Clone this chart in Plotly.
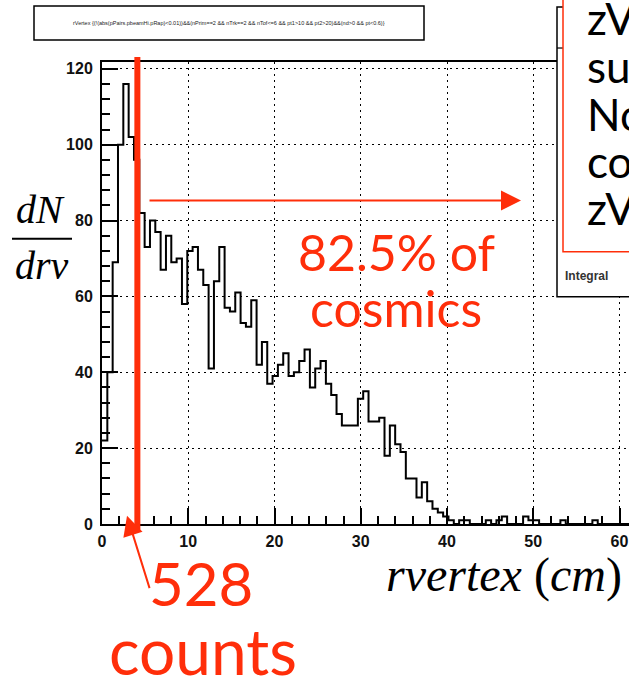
import plotly.graph_objects as go

# ---------------- data ----------------
bin_width = 0.618          # cm
counts = [22, 40, 69, 100, 116, 102, 96, 82, 73, 80,
          77, 67, 76, 69, 70, 58, 72, 73, 67, 63,
          41, 64, 73, 57, 56, 61, 53, 52, 59, 42,
          48, 37, 39, 42, 45, 39, 40, 43, 46, 36,
          41, 43, 37, 34, 29, 26, 26, 26, 33, 35,
          27, 27, 28, 18, 26, 21, 19, 12, 12, 7,
          11, 6, 4, 3, 2, 1, 0, 1, 1, 0,
          0, 0, 1, 0, 1, 2, 0, 0, 0, 2,
          1, 1, 0, 0, 0, 0, 1, 0, 0, 0,
          0, 0, 1, 0, 0, 0, 0, 0, 0, 0]
cut_r = 4.1                 # cm, vertical red cut line
x_ticks = [0, 10, 20, 30, 40, 50, 60]
y_ticks = [0, 20, 40, 60, 80, 100, 120]
x_range = [0, 61.1]
y_range = [0, 121.8]
left_counts_label = "528"
right_frac_label = "82.5% of"

edges = [i * bin_width for i in range(len(counts) + 1)]
yvals = counts + [counts[-1]]

# ---------------- layout geometry ----------------
W, H = 629, 676
ML, MR, MT, MB = 102, 0, 62, 151.5
PW, PH = W - ML - MR, H - MT - MB


def px(xp):
    return (xp - ML) / PW


def py(yp):
    return (H - MB - yp) / PH


def dx(v):
    return (v - x_range[0]) / (x_range[1] - x_range[0])


def dy(v):
    return (v - y_range[0]) / (y_range[1] - y_range[0])


RED = "#ff2e0a"

fig = go.Figure()
fig.add_trace(go.Scatter(
    x=edges, y=yvals, mode="lines", line_shape="hv",
    line=dict(color="black", width=2), showlegend=False, hoverinfo="skip"))

tickfont = dict(family="Liberation Sans", size=16, color="#111", weight="bold")
fig.update_xaxes(
    range=x_range, tickvals=x_ticks, ticks="inside", ticklen=16, tickwidth=1.5,
    tickcolor="black", showline=True, linecolor="black", linewidth=2, mirror=True,
    showgrid=True, gridcolor="black", gridwidth=1.3, griddash="2px,4px",
    zeroline=False, tickfont=tickfont, ticklabelstandoff=2,
    minor=dict(dtick=2, ticks="inside", ticklen=8, tickwidth=1.5, tickcolor="black", showgrid=False))
fig.update_yaxes(
    range=y_range, tickvals=y_ticks, ticks="inside", ticklen=16, tickwidth=1.5,
    tickcolor="black", showline=True, linecolor="black", linewidth=2, mirror=False,
    showgrid=True, gridcolor="black", gridwidth=1.3, griddash="2px,4px",
    zeroline=False, tickfont=tickfont, ticklabelstandoff=4,
    minor=dict(dtick=4, ticks="inside", ticklen=8, tickwidth=1.5, tickcolor="black", showgrid=False))

shapes = []
annotations = []


def label(xp, yp, text, font, xanchor="center", yanchor="middle"):
    annotations.append(dict(xref="paper", yref="paper", x=px(xp), y=py(yp),
                            xanchor=xanchor, yanchor=yanchor, showarrow=False,
                            text=text, font=font))


# title box
shapes.append(dict(type="rect", xref="paper", yref="paper", x0=px(34), x1=px(424),
                   y0=py(40), y1=py(6), line=dict(color="black", width=1.5),
                   fillcolor="white", layer="above"))
label(229, 23,
      "rVertex {(!(abs(pPairs.pbeamHi.pRap)<0.01))&&(nPrim==2 && nTrk==2 && nTof<=6 && pt1>10 && pt2>20)&&(nd>0 && pt<0.6)}",
      dict(family="Liberation Sans", size=5.5, color="#222"))

# stats box (partially off-canvas)
shapes.append(dict(type="rect", xref="paper", yref="paper", x0=px(557), x1=px(700),
                   y0=py(297), y1=py(7), line=dict(color="black", width=1.5),
                   fillcolor="white", layer="above"))
shapes.append(dict(type="line", xref="paper", yref="paper", x0=px(557), x1=px(563),
                   y0=py(48), y1=py(48), line=dict(color="black", width=1.2), layer="above"))
shapes.append(dict(type="rect", xref="paper", yref="paper", x0=px(563), x1=px(700),
                   y0=py(252), y1=py(-10), line=dict(color=RED, width=1.5),
                   fillcolor="white", layer="above"))
label(563, 276, "<b>Integral</b>", dict(family="Liberation Sans", size=12, color="#333"),
      xanchor="left")
box_lines = [("zVertex cut", 18), ("subtracted", 66), ("Non-zero", 114),
             ("collision", 161), ("zVertex", 208)]
for t, yy in box_lines:
    label(585, yy, t, dict(family="Lato", size=44, color="black"), xanchor="left")

# red cut line
shapes.append(dict(type="line", xref="paper", yref="paper", x0=dx(cut_r), x1=dx(cut_r),
                   y0=py(530), y1=py(57), line=dict(color=RED, width=6), layer="above"))

# horizontal arrow
annotations.append(dict(xref="paper", yref="paper", x=px(521), y=dy(85.3),
                        ax=-373, ay=0, axref="pixel", ayref="pixel", text="",
                        showarrow=True, arrowhead=2, arrowsize=2, arrowwidth=2,
                        arrowcolor=RED))
# slanted arrow towards the cut
annotations.append(dict(xref="paper", yref="paper", x=dx(2.9), y=dy(2.2),
                        ax=23, ay=74, axref="pixel", ayref="pixel", text="",
                        showarrow=True, arrowhead=2, arrowsize=2, arrowwidth=2,
                        arrowcolor=RED))

bigfont = dict(family="Lato", size=50, color=RED)
label(396, 252, right_frac_label, bigfont)
label(396, 308, "cosmics", bigfont)
label(201, 584, left_counts_label, dict(family="Lato", size=60, color=RED))
label(203, 651, "counts", dict(family="Lato", size=64, color=RED))

# axis titles
serif = dict(family="Liberation Serif", size=40, color="black")
label(40, 210, "<i>dN</i>", serif)
label(42, 266, "<i>drv</i>", serif)
shapes.append(dict(type="line", xref="paper", yref="paper", x0=px(12), x1=px(72),
                   y0=py(239), y1=py(239), line=dict(color="black", width=2), layer="above"))
label(384, 576, "<i>rvertex</i> (<i>cm</i>)",
      dict(family="Liberation Serif", size=48, color="black"), xanchor="left")

fig.update_layout(
    width=W, height=H, margin=dict(l=ML, r=MR, t=MT, b=MB, pad=0),
    paper_bgcolor="white", plot_bgcolor="white", showlegend=False,
    shapes=shapes, annotations=annotations)

fig.write_html("out.html", config={"displayModeBar": False},
               post_script="document.body.style.margin='0';")
